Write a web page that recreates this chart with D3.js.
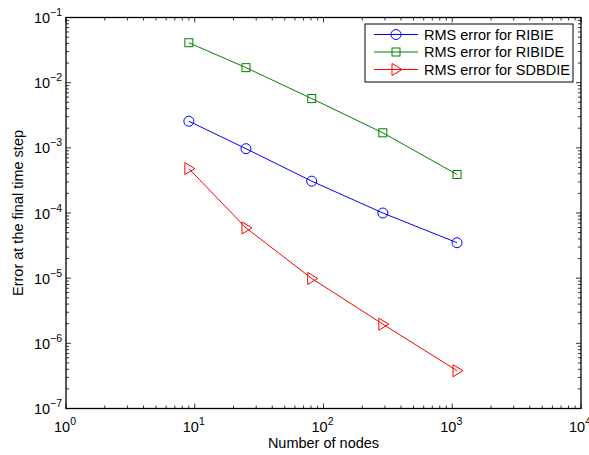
<!DOCTYPE html>
<html>
<head>
<meta charset="utf-8">
<script src="https://cdn.jsdelivr.net/npm/d3@7"></script>
<style>
  body { margin: 0; background: #fff; }
  svg { font-family: "Liberation Sans", Arial, sans-serif; }
</style>
</head>
<body>
<div id="chart"></div>
<script>
/**
 * DATA
 * */
const nodes = [9, 25, 81, 289, 1089];
const ribie = [2.56e-3, 9.7e-4, 3.08e-4, 1.0e-4, 3.5e-5];
const ribide = [4.1e-2, 1.7e-2, 5.7e-3, 1.7e-3, 3.9e-4];
const sdbdie = [4.8e-4, 5.9e-5, 9.9e-6, 1.97e-6, 3.8e-7];
const seriesNames = ["RMS error for RIBIE", "RMS error for RIBIDE", "RMS error for SDBDIE"];
const xTickExps = [0, 1, 2, 3, 4];
const yTickExps = [-7, -6, -5, -4, -3, -2, -1];

const width = 589, height = 455;
const margin = { top: 17.5, right: 8, bottom: 46.5, left: 66 };
const fs = 14.5;

const svg = d3.select("#chart").append("svg")
  .attr("width", width)
  .attr("height", height);

const x = d3.scaleLog().domain([1, 1e4]).range([margin.left, width - margin.right]);
const y = d3.scaleLog().domain([1e-7, 1e-1]).range([height - margin.bottom, margin.top]);

const [x0, x1] = x.range();
const [y0, y1] = y.range();

// ticks (inward, mirrored on all four sides)
const ticks = svg.append("g").attr("stroke", "#000").attr("stroke-width", 0.8);
function minorOf(lo, hi) {
  const out = [];
  for (let e = lo; e < hi; e++) for (let m = 2; m <= 9; m++) out.push(m * Math.pow(10, e));
  return out;
}
const xMinor = minorOf(0, 4), yMinor = minorOf(-7, -1);
xTickExps.forEach(e => {
  const px = x(Math.pow(10, e));
  ticks.append("line").attr("x1", px).attr("x2", px).attr("y1", y0).attr("y2", y0 - 5);
  ticks.append("line").attr("x1", px).attr("x2", px).attr("y1", y1).attr("y2", y1 + 5);
});
xMinor.forEach(v => {
  const px = x(v);
  ticks.append("line").attr("x1", px).attr("x2", px).attr("y1", y0).attr("y2", y0 - 3);
  ticks.append("line").attr("x1", px).attr("x2", px).attr("y1", y1).attr("y2", y1 + 3);
});
yTickExps.forEach(e => {
  const py = y(Math.pow(10, e));
  ticks.append("line").attr("y1", py).attr("y2", py).attr("x1", x0).attr("x2", x0 + 5);
  ticks.append("line").attr("y1", py).attr("y2", py).attr("x1", x1).attr("x2", x1 - 5);
});
yMinor.forEach(v => {
  const py = y(v);
  ticks.append("line").attr("y1", py).attr("y2", py).attr("x1", x0).attr("x2", x0 + 3);
  ticks.append("line").attr("y1", py).attr("y2", py).attr("x1", x1).attr("x2", x1 - 3);
});

// box
svg.append("rect")
  .attr("x", x0).attr("y", y1)
  .attr("width", x1 - x0).attr("height", y0 - y1)
  .attr("fill", "none").attr("stroke", "#000").attr("stroke-width", 1.3);

// tick labels "10^e"
function powLabel(g, e) {
  g.append("tspan").text("10");
  g.append("tspan").attr("dy", -7).attr("font-size", 10.5).text(e < 0 ? "\u2212" + (-e) : e);
}
xTickExps.forEach(e => {
  const t = svg.append("text")
    .attr("x", x(Math.pow(10, e)) - 1)
    .attr("y", y0 + 23)
    .attr("font-size", fs)
    .attr("text-anchor", "middle");
  powLabel(t, e);
});
yTickExps.forEach(e => {
  const t = svg.append("text")
    .attr("x", x0 - 4)
    .attr("y", y(Math.pow(10, e)) + 5.5)
    .attr("font-size", fs)
    .attr("text-anchor", "end");
  powLabel(t, e);
});

// axis titles
svg.append("text")
  .attr("x", (x0 + x1) / 2).attr("y", 448)
  .attr("text-anchor", "middle").attr("font-size", fs)
  .text("Number of nodes");
svg.append("text")
  .attr("transform", `translate(23,${(y0 + y1) / 2}) rotate(-90)`)
  .attr("text-anchor", "middle").attr("font-size", fs)
  .text("Error at the final time step");

// series
const series = [
  { name: seriesNames[0], values: ribie, color: "#0000ff", marker: "circle" },
  { name: seriesNames[1], values: ribide, color: "#008000", marker: "square" },
  { name: seriesNames[2], values: sdbdie, color: "#ff0000", marker: "triangle" },
];

const line = d3.line().x(d => x(d[0])).y(d => y(d[1]));

function drawMarker(g, kind, cx, cy, color) {
  if (kind === "circle") {
    g.append("circle").attr("cx", cx).attr("cy", cy).attr("r", 5)
      .attr("fill", "none").attr("stroke", color).attr("stroke-width", 1);
  } else if (kind === "square") {
    g.append("rect").attr("x", cx - 4).attr("y", cy - 4).attr("width", 8).attr("height", 8)
      .attr("fill", "none").attr("stroke", color).attr("stroke-width", 1);
  } else {
    g.append("path")
      .attr("d", `M${cx - 4},${cy - 6}L${cx + 6},${cy}L${cx - 4},${cy + 6}Z`)
      .attr("fill", "none").attr("stroke", color).attr("stroke-width", 1);
  }
}

series.forEach(s => {
  const pts = nodes.map((n, i) => [n, s.values[i]]);
  svg.append("path")
    .attr("d", line(pts))
    .attr("fill", "none").attr("stroke", s.color).attr("stroke-width", 1);
  const g = svg.append("g");
  pts.forEach(p => drawMarker(g, s.marker, x(p[0]), y(p[1]), s.color));
});

// legend
const legend = svg.append("g");
legend.append("rect")
  .attr("x", 365).attr("y", 24).attr("width", 208).attr("height", 58)
  .attr("fill", "#fff").attr("stroke", "#000").attr("stroke-width", 1);
series.forEach((s, i) => {
  const ly = 34.5 + i * 17.5;
  legend.append("line").attr("x1", 374).attr("x2", 418).attr("y1", ly).attr("y2", ly)
    .attr("stroke", s.color).attr("stroke-width", 1);
  drawMarker(legend, s.marker, 396, ly, s.color);
  legend.append("text").attr("x", 424).attr("y", ly + 5)
    .attr("font-size", fs).text(s.name);
});
</script>
</body>
</html>
